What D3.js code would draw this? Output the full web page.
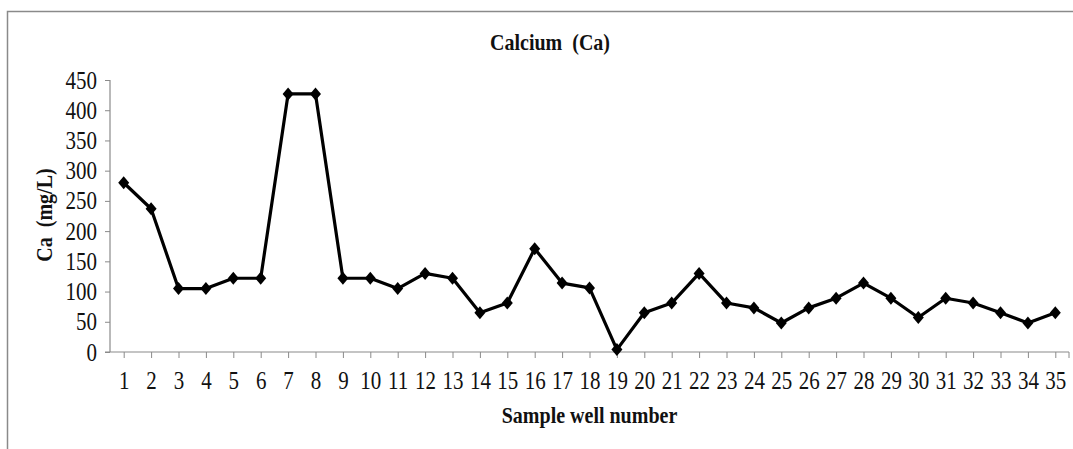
<!DOCTYPE html>
<html>
<head>
<meta charset="utf-8">
<script src="https://cdn.jsdelivr.net/npm/d3@7"></script>
<style>
  body { margin: 0; background: #fff; }
  svg { display: block; }
  text { font-family: "Liberation Serif", "Times New Roman", serif; fill: #111; }
</style>
</head>
<body>
<div id="chart"></div>
<script>
// sample wells and calcium values (mg/L)
var wells = d3.range(1, 36).map(String);
var calcium = [280, 237, 105, 105, 122, 122, 427, 427, 122, 122,
               105, 130, 122, 65, 81, 171, 114, 106, 4, 65,
               81, 130, 81, 73, 48, 73, 89, 114, 89, 57,
               89, 81, 65, 48, 65];
var yTicks = [0, 50, 100, 150, 200, 250, 300, 350, 400, 450];

var width = 1073,
    height = 449;

var plotLeft = 110, plotRight = 1069, plotTop = 80, plotBottom = 352;

var svg = d3.select("#chart").append("svg")
  .attr("width", width)
  .attr("height", height);

// outer frame (top and left edges only visible)
svg.append("path")
  .attr("d", "M7.5," + height + "V11.5H" + width)
  .attr("fill", "none")
  .attr("stroke", "#8a8a8a")
  .attr("stroke-width", 1.5);

var x = d3.scalePoint()
  .domain(wells)
  .range([plotLeft, plotRight])
  .padding(0.5);

var y = d3.scaleLinear()
  .domain([0, 450])
  .range([plotBottom, plotTop]);

// y axis
var yAxis = svg.append("g")
  .attr("transform", "translate(" + plotLeft + ",0)")
  .call(d3.axisLeft(y).tickValues(yTicks).tickSize(5).tickPadding(8));
yAxis.select(".domain").attr("stroke", "#8a8a8a").attr("stroke-width", 1.2)
  .attr("d", "M0," + plotTop + "V" + plotBottom);
yAxis.selectAll(".tick line").attr("stroke", "#8a8a8a");
yAxis.selectAll("text")
  .attr("font-size", 21).attr("font-family", "Liberation Serif").attr("fill", "#111")
  .attr("dy", null).attr("y", 0)
  .attr("transform", "scale(1,1.18)")
  .attr("dominant-baseline", "central");

// x axis
var xAxis = svg.append("g")
  .attr("transform", "translate(0," + plotBottom + ")")
  .call(d3.axisBottom(x).tickSize(6).tickPadding(6));
xAxis.select(".domain").attr("stroke", "#8a8a8a").attr("stroke-width", 1.2)
  .attr("d", "M" + (plotLeft - 5) + ",0H" + plotRight);
xAxis.selectAll(".tick line").attr("stroke", "#8a8a8a");
xAxis.selectAll("text")
  .attr("font-size", 21).attr("font-family", "Liberation Serif").attr("fill", "#111")
  .attr("dy", null).attr("y", 31)
  .attr("transform", "scale(1,1.18)");
xAxis.append("line")
  .attr("x1", plotRight).attr("x2", plotRight)
  .attr("y1", 0).attr("y2", 6)
  .attr("stroke", "#8a8a8a");

// line
var line = d3.line()
  .x(function(d, i) { return x(wells[i]); })
  .y(function(d) { return y(d); });

svg.append("path")
  .datum(calcium)
  .attr("d", line)
  .attr("fill", "none")
  .attr("stroke", "#000")
  .attr("stroke-width", 3.2)
  .attr("stroke-linejoin", "round");

// diamond markers
svg.selectAll(".marker")
  .data(calcium)
  .enter().append("path")
  .attr("class", "marker")
  .attr("d", "M0,-6.5L5.5,0L0,6.5L-5.5,0Z")
  .attr("transform", function(d, i) { return "translate(" + x(wells[i]) + "," + y(d) + ")"; })
  .attr("fill", "#000");

// title and axis labels
svg.append("text")
  .attr("transform", "translate(550,50) scale(1,1.15)")
  .attr("text-anchor", "middle")
  .attr("font-size", 20)
  .attr("font-weight", "bold")
  .attr("xml:space", "preserve")
  .text("Calcium  (Ca)");

svg.append("text")
  .attr("transform", "translate(52,215) rotate(-90) scale(1,1.15)")
  .attr("text-anchor", "middle")
  .attr("font-size", 20)
  .attr("font-weight", "bold")
  .attr("xml:space", "preserve")
  .text("Ca  (mg/L)");

svg.append("text")
  .attr("transform", "translate(" + (plotLeft + plotRight) / 2 + ",423) scale(1,1.15)")
  .attr("text-anchor", "middle")
  .attr("font-size", 20)
  .attr("font-weight", "bold")
  .text("Sample well number");
</script>
</body>
</html>
